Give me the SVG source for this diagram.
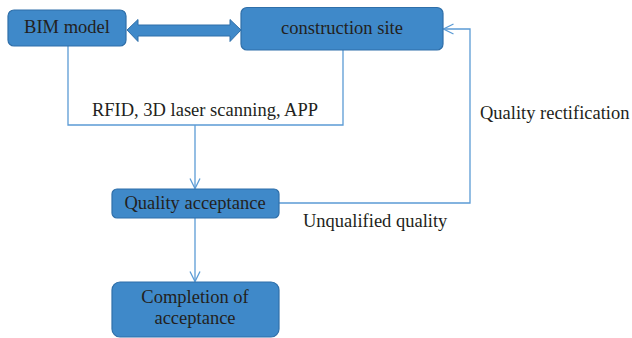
<svg xmlns="http://www.w3.org/2000/svg" width="632" height="338" viewBox="0 0 632 338">
<defs>
<style>
.box{fill:#3f89c9;stroke:#2f6fa9;stroke-width:1.2}
.t{font-family:"Liberation Serif","Times New Roman",serif;font-size:18.5px;fill:#231f20}
.ln{fill:none;stroke:#5b9bd5;stroke-width:1.3}
</style>
<marker id="ah" viewBox="0 0 12 12" refX="11" refY="6" markerWidth="12" markerHeight="12" markerUnits="userSpaceOnUse" orient="auto">
<path d="M1,1 L11,6 L1,11" fill="none" stroke="#5b9bd5" stroke-width="1.3"/>
</marker>
</defs>
<rect width="632" height="338" fill="#fff"/>
<g id="connectors">
<path class="ln" d="M68,46 V125 H343 V50"/>
<path class="ln" d="M195,125 V188.5" marker-end="url(#ah)"/>
<path class="ln" d="M279,203 H470 V29 H443.5" marker-end="url(#ah)"/>
<path class="ln" d="M195,218 V281.5" marker-end="url(#ah)"/>
<path d="M127,30 L138,19.5 V25 H230 V19.5 L241,30 L230,41.5 V36 H138 V41.5 Z" fill="#3f89c9" stroke="#2f6fa9" stroke-width="1"/>
<text class="t" x="205" y="116" text-anchor="middle">RFID, 3D laser scanning, APP</text>
<text class="t" x="480" y="119">Quality rectification</text>
<text class="t" x="303" y="227">Unqualified quality</text>
</g>
<g id="bim">
<rect class="box" x="8" y="10" width="118" height="36" rx="6"/>
<text class="t" x="67" y="33" text-anchor="middle">BIM model</text>
</g>
<g id="site">
<rect class="box" x="241" y="7.5" width="202" height="42.5" rx="6"/>
<text class="t" x="342" y="34" text-anchor="middle">construction site</text>
</g>
<g id="qa">
<rect class="box" x="112" y="189" width="167" height="29" rx="5"/>
<text class="t" x="195" y="209" text-anchor="middle">Quality acceptance</text>
</g>
<g id="completion">
<rect class="box" x="112" y="282" width="167" height="55" rx="8"/>
<text class="t" x="195" y="303" text-anchor="middle">Completion of</text>
<text class="t" x="195" y="324" text-anchor="middle">acceptance</text>
</g>
</svg>
